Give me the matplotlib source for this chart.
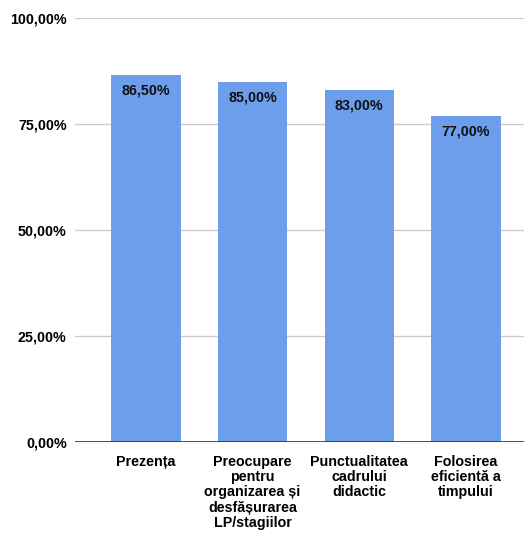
import matplotlib.pyplot as plt
from matplotlib.ticker import FuncFormatter

plt.rcParams['font.family'] = ['Liberation Sans', 'DejaVu Sans']

categories = [
    "Prezența",
    "Preocupare\npentru\norganizarea și\ndesfășurarea\nLP/stagiilor",
    "Punctualitatea\ncadrului\ndidactic",
    "Folosirea\neficientă a\ntimpului",
]
values = [86.5, 85.0, 83.0, 77.0]
yticks = [0, 25, 50, 75, 100]

fig = plt.figure(figsize=(5.24, 5.33), dpi=100)
ax = fig.add_axes([0.1431, 0.1707, 0.8569, 0.7955])

x = range(len(categories))
bars = ax.bar(x, values, width=0.65, color="#6d9eeb", zorder=3)

for b, v in zip(bars, values):
    ax.text(b.get_x() + b.get_width() / 2, v - 2.0, f"{v:.2f}%".replace(".", ","),
            ha="center", va="top", fontsize=10.3, fontweight="bold", color="#111111", zorder=4)

ax.set_ylim(0, 100)
ax.set_xlim(-0.665, 3.544)
ax.set_yticks(yticks)
ax.yaxis.set_major_formatter(FuncFormatter(lambda v, p: f"{v:.2f}%".replace(".", ",")))
ax.set_xticks(list(x))
ax.set_xticklabels(categories, fontsize=10.3, fontweight="bold", linespacing=1.13, va="top")

ax.grid(axis="y", color="#cccccc", linewidth=1, zorder=0)
ax.axhline(0, color="#333333", linewidth=1.2, zorder=5)
for s in ax.spines.values():
    s.set_visible(False)
ax.tick_params(axis="both", length=0, labelsize=10.3)
ax.tick_params(axis="y", pad=6)
ax.tick_params(axis="x", pad=9)
for lbl in ax.get_yticklabels():
    lbl.set_fontweight("bold")

fig.savefig("out.png", dpi=100)
